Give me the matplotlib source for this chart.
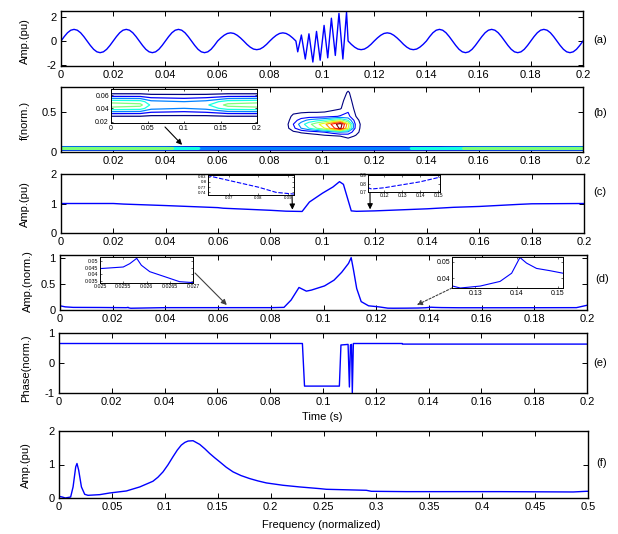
import numpy as np
import matplotlib
matplotlib.use('Agg')
import matplotlib.pyplot as plt

# ---------------- data ----------------
# (a) signal: samples before burst (0..0.09 s, step 1.25 ms), burst peaks, samples after (0.11..0.2 s)
sig_pre = [0, .37, .69, .90, .97, .90, .69, .37, 0, -.37, -.69, -.90, -.97, -.90, -.69, -.37,
           0, .37, .69, .90, .97, .90, .69, .37, 0, -.37, -.69, -.90, -.97, -.90, -.69, -.37,
           0, .37, .69, .90, .97, .90, .69, .37, 0, -.37, -.69, -.90, -.97, -.90, -.69, -.37,
           0, .26, .48, .63, .68, .63, .48, .26, 0, -.28, -.51, -.67, -.72, -.67, -.51, -.28,
           0, .26, .48, .63, .68, .63, .48, .26, 0]
burst_t = [0.0907, 0.0921, 0.0936, 0.0950, 0.0965, 0.0979, 0.0993, 0.1008, 0.1022, 0.1036,
           0.1051, 0.1065, 0.1080, 0.1094]
burst_v = [-0.9, 0.5, -1.5, 0.6, -1.75, 0.8, -1.6, 1.3, -1.4, 1.9, -1.2, 2.3, -1.5, 2.4]
sig_post = [0, -.28, -.51, -.67, -.72, -.67, -.51, -.28,
            0, .26, .48, .63, .68, .63, .48, .26, 0, -.28, -.51, -.67, -.72, -.67, -.51, -.28,
            0, .37, .69, .90, .97, .90, .69, .37, 0, -.37, -.69, -.90, -.97, -.90, -.69, -.37,
            0, .37, .69, .90, .97, .90, .69, .37, 0, -.37, -.69, -.90, -.97, -.90, -.69, -.37,
            0, .37, .69, .90, .97, .90, .69, .37, 0, -.37, -.69, -.90, -.97, -.90, -.69, -.37, 0]

# (b) time-frequency map: low-frequency band and disturbance blob
band_t = [0, 0.04, 0.055, 0.1, 0.13, 0.16, 0.2]
band_f = [0.025, 0.03, 0.035, 0.04, 0.045, 0.05, 0.055, 0.06, 0.065]
band_z = [[0, 0, 0, 0, 0, 0, 0],
          [0.8, 0.8, 0.62, 0.6, 0.62, 0.8, 0.8],
          [2.5, 2.4, 1.7, 1.5, 1.7, 2.4, 2.5],
          [4.2, 4.0, 2.8, 2.5, 2.8, 4.0, 4.2],
          [5.0, 4.8, 3.3, 3.0, 3.3, 4.8, 5.0],
          [4.2, 4.0, 2.8, 2.5, 2.8, 4.0, 4.2],
          [2.5, 2.4, 1.7, 1.5, 1.7, 2.4, 2.5],
          [0.8, 0.8, 0.62, 0.6, 0.62, 0.8, 0.8],
          [0, 0, 0, 0, 0, 0, 0]]
blob_t = [0.086, 0.089, 0.092, 0.095, 0.098, 0.101, 0.104, 0.107, 0.110, 0.113, 0.116]
blob_f = [0.15, 0.2, 0.25, 0.3, 0.35, 0.4, 0.45, 0.55, 0.65, 0.75, 0.85]
blob_z = [[0, 0, 0, 0, 0, 0, 0, 0, 0.2, 0, 0],
          [0, 0, 0, 0, 0.1, 0.2, 0.3, 0.5, 0.8, 0.4, 0],
          [0, 0.3, 0.6, 0.8, 1.0, 1.5, 2.0, 2.5, 2.2, 0.8, 0],
          [0, 1.2, 2.5, 3.5, 4.5, 5.5, 7.0, 8.8, 5.5, 1.0, 0],
          [0, 1.5, 3.0, 4.2, 5.2, 6.2, 7.8, 9.2, 6.0, 1.1, 0],
          [0, 1.0, 2.0, 2.8, 3.2, 3.6, 4.3, 5.0, 3.5, 0.8, 0],
          [0, 0.7, 0.9, 1.0, 1.0, 1.1, 1.3, 1.6, 1.8, 0.5, 0],
          [0, 0, 0, 0, 0, 0, 0.2, 0.4, 1.2, 0.2, 0],
          [0, 0, 0, 0, 0, 0, 0, 0.2, 0.9, 0, 0],
          [0, 0, 0, 0, 0, 0, 0, 0, 0.6, 0, 0],
          [0, 0, 0, 0, 0, 0, 0, 0, 0, 0, 0]]
tf_levels = [0.5, 1.5, 2.5, 3.5, 4.5, 5.5, 6.5, 7.5, 8.5]

# (c) amplitude envelope
c_t = [0, 0.02, 0.024, 0.04, 0.06, 0.062, 0.08, 0.086, 0.0922, 0.095, 0.1, 0.104, 0.1065,
       0.108, 0.1095, 0.111, 0.113, 0.12, 0.14, 0.15, 0.16, 0.175, 0.18, 0.2]
c_v = [1.0, 1.0, 0.98, 0.93, 0.86, 0.84, 0.77, 0.74, 0.73, 1.05, 1.35, 1.56, 1.74,
       1.65, 1.2, 0.75, 0.735, 0.75, 0.82, 0.87, 0.9, 0.97, 0.99, 1.0]

# (d) normalized amplitude
d_t = [0, 0.002, 0.005, 0.015, 0.025, 0.0255, 0.02564, 0.02579, 0.02589, 0.02607, 0.02643,
       0.02671, 0.027, 0.04, 0.06, 0.08, 0.085, 0.0877, 0.0907, 0.0935, 0.0954, 0.1004, 0.104,
       0.1069, 0.1095, 0.1105, 0.1114, 0.1126, 0.1143, 0.1171, 0.121, 0.1244, 0.1264, 0.1312,
       0.136, 0.1388, 0.1408, 0.1424, 0.1448, 0.148, 0.1512, 0.17, 0.196, 0.2]
d_v = [0.08, 0.06, 0.05, 0.048, 0.0443, 0.0455, 0.048, 0.052, 0.0468, 0.042, 0.0378,
       0.0345, 0.0338, 0.045, 0.045, 0.045, 0.05, 0.19, 0.43, 0.36, 0.38, 0.46, 0.57,
       0.72, 0.89, 1.0, 0.76, 0.41, 0.16, 0.08, 0.06, 0.0351, 0.0338, 0.035,
       0.0379, 0.043, 0.0528, 0.0493, 0.046, 0.0446, 0.043, 0.043, 0.045, 0.09]

# (e) phase
e_t = [0, 0.0922, 0.0930, 0.1062, 0.1068, 0.1095, 0.1100, 0.1104, 0.1108, 0.1111, 0.1115,
       0.13, 0.1301, 0.2]
e_v = [0.65, 0.65, -0.77, -0.77, 0.6, 0.62, -0.8, 0.6, 0.62, -1.0, 0.65, 0.65, 0.63, 0.63]

# (f) spectrum
f_x = [0, 0.003, 0.006, 0.011, 0.0133, 0.0158, 0.017, 0.0186, 0.0212, 0.0243, 0.0274, 0.0385,
       0.048, 0.0637, 0.0763, 0.0888, 0.0935, 0.0983, 0.103, 0.1077, 0.1118, 0.1156, 0.119,
       0.122, 0.1267, 0.133, 0.1378, 0.1424, 0.1472, 0.1519, 0.158, 0.1645, 0.172, 0.1802,
       0.188, 0.196, 0.2117, 0.2275, 0.2464, 0.2527, 0.2905, 0.2952, 0.3283, 0.4163, 0.486,
       0.4985, 0.5]
f_v = [0.05, 0.03, 0.0, 0.03, 0.33, 0.93, 1.03, 0.83, 0.33, 0.11, 0.08, 0.1, 0.15, 0.21, 0.33,
       0.5, 0.62, 0.78, 0.99, 1.23, 1.43, 1.58, 1.66, 1.7, 1.71, 1.6, 1.47, 1.33, 1.2, 1.08,
       0.92, 0.78, 0.67, 0.58, 0.51, 0.45, 0.38, 0.33, 0.28, 0.26, 0.23, 0.2, 0.19, 0.19,
       0.18, 0.2, 0.2]

time_ticks = [0, 0.02, 0.04, 0.06, 0.08, 0.1, 0.12, 0.14, 0.16, 0.18, 0.2]
time_labels = ['0', '0.02', '0.04', '0.06', '0.08', '0.1', '0.12', '0.14', '0.16', '0.18', '0.2']
freq_ticks = [0, 0.05, 0.1, 0.15, 0.2, 0.25, 0.3, 0.35, 0.4, 0.45, 0.5]
freq_labels = ['0', '0.05', '0.1', '0.15', '0.2', '0.25', '0.3', '0.35', '0.4', '0.45', '0.5']

# ---------------- figure ----------------
W, H = 618, 534
plt.rcParams['font.family'] = ['Liberation Sans', 'DejaVu Sans']
plt.rcParams['font.size'] = 8
plt.rcParams['axes.unicode_minus'] = False
fig = plt.figure(figsize=(W / 100, H / 100), dpi=100)
BLUE = '#0000ff'


def rect(x0, y0, x1, y1):
    return [x0 / W, 1 - y1 / H, (x1 - x0) / W, (y1 - y0) / H]


def fpx(x, y):
    return (x / W, 1 - y / H)


def style(ax, fs=8, length=3.5, lw=1.0, pad=3, width=0.7):
    ax.tick_params(direction='in', top=True, right=True, length=length, width=width,
                   labelsize=fs, pad=pad)
    for s in ax.spines.values():
        s.set_linewidth(lw)


def ylab(text, x, y):
    fig.text(x / W, 1 - y / H, text, rotation=90, ha='center', va='center', fontsize=8)


def plab(text, x, y):
    fig.text(x / W, 1 - y / H, text, ha='left', va='center', fontsize=8)


arrow_k = dict(arrowstyle='-|>', color='k', lw=0.8, mutation_scale=8, shrinkA=0, shrinkB=0)

# (a)
axa = fig.add_axes(rect(61, 11, 583, 66))
sig_t = np.concatenate([np.linspace(0, 0.09, len(sig_pre)), burst_t,
                        np.linspace(0.11, 0.2, len(sig_post))])
sig_v = np.concatenate([sig_pre, burst_v, sig_post])
axa.plot(sig_t, sig_v, color=BLUE, lw=1.0)
axa.set_xlim(0, 0.2)
axa.set_ylim(-2.08, 2.5)
axa.set_yticks([-2, 0, 2])
axa.set_xticks(time_ticks)
axa.set_xticklabels(time_labels)
style(axa)
ylab('Amp.(pu)', 25, 41)
plab('(a)', 593, 40)

# (b)
axb = fig.add_axes(rect(61, 87, 583, 152))
axb.contour(band_t, band_f, band_z, levels=tf_levels, cmap='jet', vmin=0.5, vmax=8.5,
            linewidths=1.6)
axb.contour(blob_t, blob_f, blob_z, levels=tf_levels, cmap='jet', vmin=0.5, vmax=8.5,
            linewidths=0.8)
axb.set_xlim(0, 0.2)
axb.set_ylim(0, 0.82)
axb.set_yticks([0, 0.5])
axb.set_yticklabels(['0', '0.5'])
axb.set_xticks(time_ticks)
axb.set_xticklabels([''] + time_labels[1:])
style(axb)
ylab('f(norm.)', 25, 120)
plab('(b)', 593, 113)
axb.annotate('', xy=(0.0464, 0.09), xycoords='data', xytext=fpx(165, 127),
             textcoords='figure fraction', arrowprops=arrow_k)

axbi = fig.add_axes(rect(111, 89, 257, 123))
axbi.contour(band_t, band_f, band_z, levels=tf_levels, cmap='jet', vmin=0.5, vmax=8.5,
             linewidths=0.9)
axbi.set_xlim(0, 0.2)
axbi.set_ylim(0.018, 0.069)
axbi.set_xticks([0, 0.05, 0.1, 0.15, 0.2])
axbi.set_xticklabels(['0', '0.05', '0.1', '0.15', '0.2'])
axbi.set_yticks([0.02, 0.04, 0.06])
axbi.set_yticklabels(['0.02', '0.04', '0.06'])
style(axbi, fs=5, length=1.5, lw=0.7, pad=1.5, width=0.5)

# (c)
axc = fig.add_axes(rect(61, 174, 584, 233))
axc.plot(c_t, c_v, color=BLUE, lw=1.0)
axc.set_xlim(0, 0.2)
axc.set_ylim(0, 2)
axc.set_yticks([0, 1, 2])
axc.set_xticks(time_ticks)
axc.set_xticklabels(time_labels)
style(axc)
ylab('Amp.(pu)', 25, 204)
plab('(c)', 593, 192)
axc.annotate('', xy=(0.0885, 0.79), xycoords='data', xytext=fpx(292, 195),
             textcoords='figure fraction', arrowprops=arrow_k)
axc.annotate('', xy=(0.1182, 0.8), xycoords='data', xytext=fpx(370, 192),
             textcoords='figure fraction', arrowprops=arrow_k)

axc1 = fig.add_axes(rect(208, 175, 294, 195))
axc1.plot(c_t, c_v, color=BLUE, lw=0.8, dashes=(4, 1.5))
axc1.set_xlim(0.063, 0.092)
axc1.set_ylim(0.725, 0.84)
axc1.set_xticks([0.07, 0.08, 0.09])
axc1.set_xticklabels(['0.07', '0.08', '0.09'])
axc1.set_yticks([0.74, 0.77, 0.8, 0.83])
axc1.set_yticklabels(['0.74', '0.77', '0.8', '0.83'])
style(axc1, fs=3.2, length=1.2, lw=0.7, pad=1, width=0.4)

axc2 = fig.add_axes(rect(368, 175, 440, 192))
axc2.plot(c_t, c_v, color=BLUE, lw=0.8, dashes=(4, 1.5))
axc2.set_xlim(0.111, 0.151)
axc2.set_ylim(0.7, 0.9)
axc2.set_xticks([0.12, 0.13, 0.14, 0.15])
axc2.set_xticklabels(['0.12', '0.13', '0.14', '0.15'])
axc2.set_yticks([0.7, 0.8, 0.9])
axc2.set_yticklabels(['0.7', '0.8', '0.9'])
style(axc2, fs=3.5, length=1.2, lw=0.7, pad=1, width=0.4)

# (d)
axd = fig.add_axes(rect(60, 255, 587, 310))
axd.plot(d_t, d_v, color=BLUE, lw=1.0)
axd.set_xlim(0, 0.2)
axd.set_ylim(0, 1.05)
axd.set_yticks([0, 0.5, 1])
axd.set_yticklabels(['0', '0.5', '1'])
axd.set_xticks(time_ticks)
axd.set_xticklabels(time_labels)
style(axd)
ylab('Amp.(norm.)', 28, 281)
plab('(d)', 595, 279)
axd.annotate('', xy=(0.0633, 0.095), xycoords='data', xytext=fpx(195, 273),
             textcoords='figure fraction',
             arrowprops=dict(arrowstyle='-|>', color='#404040', lw=0.8, mutation_scale=8,
                             shrinkA=0, shrinkB=0))
axd.annotate('', xy=(0.1354, 0.095), xycoords='data', xytext=fpx(452, 288),
             textcoords='figure fraction',
             arrowprops=dict(arrowstyle='-|>', color='#404040', lw=0.8, mutation_scale=8,
                             shrinkA=0, shrinkB=0, linestyle=(0, (2, 1.5))))

axd1 = fig.add_axes(rect(100, 257, 193, 283))
axd1.plot(d_t, d_v, color=BLUE, lw=0.8)
axd1.set_xlim(0.025, 0.027)
axd1.set_ylim(0.0335, 0.053)
axd1.set_xticks([0.025, 0.0255, 0.026, 0.0265, 0.027])
axd1.set_xticklabels(['0.025', '0.0255', '0.026', '0.0265', '0.027'])
axd1.set_yticks([0.035, 0.04, 0.045, 0.05])
axd1.set_yticklabels(['0.035', '0.04', '0.045', '0.05'])
style(axd1, fs=3.8, length=1.2, lw=0.7, pad=1, width=0.4)

axd2 = fig.add_axes(rect(452, 257, 563, 288))
axd2.plot(d_t, d_v, color=BLUE, lw=0.8)
axd2.set_xlim(0.1244, 0.1512)
axd2.set_ylim(0.0338, 0.0531)
axd2.set_xticks([0.13, 0.14, 0.15])
axd2.set_xticklabels(['0.13', '0.14', '0.15'])
axd2.set_yticks([0.04, 0.05])
axd2.set_yticklabels(['0.04', '0.05'])
style(axd2, fs=5, length=1.5, lw=0.7, pad=1.5, width=0.4)

# (e)
axe = fig.add_axes(rect(59, 333, 587, 393))
axe.plot(e_t, e_v, color=BLUE, lw=1.0)
axe.set_xlim(0, 0.2)
axe.set_ylim(-1, 1)
axe.set_yticks([-1, 0, 1])
axe.set_xticks(time_ticks)
axe.set_xticklabels(time_labels)
style(axe)
ylab('Phase(norm.)', 26, 368)
plab('(e)', 593, 363)
fig.text(322 / W, 1 - 417 / H, 'Time (s)', ha='center', va='center', fontsize=8)

# (f)
axf = fig.add_axes(rect(59, 431, 588, 498))
axf.plot(f_x, f_v, color=BLUE, lw=1.0)
axf.set_xlim(0, 0.5)
axf.set_ylim(0, 2)
axf.set_yticks([0, 1, 2])
axf.set_xticks(freq_ticks)
axf.set_xticklabels(freq_labels)
style(axf)
ylab('Amp.(pu)', 26, 465)
plab('(f)', 596, 463)
fig.text(321 / W, 1 - 525 / H, 'Frequency (normalized)', ha='center', va='center', fontsize=8)

fig.savefig('out.png', dpi=100)
